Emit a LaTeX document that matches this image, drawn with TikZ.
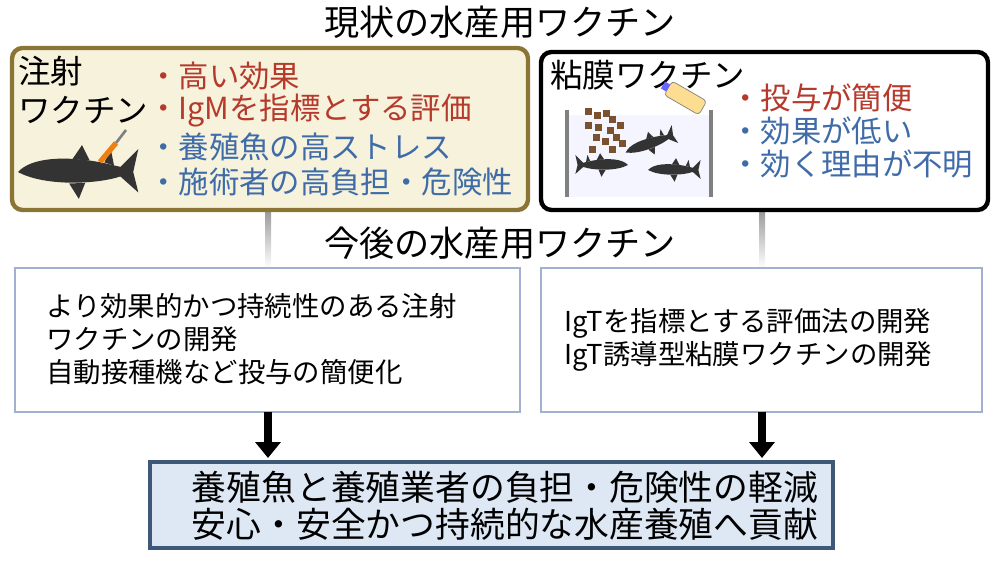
\documentclass[tikz,border=0pt]{standalone}
\usepackage{fontspec}
\setmainfont{Noto Sans CJK JP}
\usepackage{xcolor}
\usetikzlibrary{arrows.meta}
\definecolor{boxyellow}{HTML}{F6F2DC}
\definecolor{boxolive}{HTML}{8B7535}
\definecolor{txtred}{HTML}{B53A2C}
\definecolor{txtblue}{HTML}{3F6CA8}
\definecolor{lowline}{HTML}{A3B0D2}
\definecolor{botfill}{HTML}{DDE8F4}
\definecolor{botline}{HTML}{3E5878}
\definecolor{fishgray}{HTML}{333333}
\definecolor{pellet}{HTML}{7A5230}
\tikzset{
  title/.style={font=\fontsize{20}{24}\selectfont},
  bullet/.style={anchor=west,font=\fontsize{17.3}{20}\selectfont},
  lowtext/.style={anchor=west,align=left,font=\fontsize{15.6}{18.7}\selectfont},
  fish/.pic={
    \fill[fishgray] (-1,0) .. controls (-0.8,-0.22) and (-0.3,-0.26) .. (0.3,-0.15)
      -- (0.6,-0.08) -- (0.88,-0.36) -- (0.8,0) -- (0.88,0.32) -- (0.6,0.07)
      .. controls (0.2,0.2) and (-0.6,0.22) .. cycle;
    \fill[fishgray] (-0.15,-0.2) -- (0,-0.42) -- (0.12,-0.18) -- cycle;
    \fill[fishgray] (0.35,-0.15) -- (0.45,-0.36) -- (0.5,-0.1) -- cycle;
    \fill[fishgray] (-0.2,0.18) -- (-0.05,0.42) -- (0.05,0.17) -- cycle;
  }
}
\begin{document}
\begin{tikzpicture}[x=0.02cm,y=-0.02cm]
	\useasboundingbox (0,0) rectangle (1000,574);
	% upper part
	\node[title] (now) at (500,22) {現状の水産用ワクチン};
	\shade[top color=gray!80,bottom color=white] (265,210) rectangle (271,268);
	\shade[top color=gray!80,bottom color=white] (759,210) rectangle (765,268);
	\filldraw[draw=boxolive,line width=2.5pt,fill=boxyellow,rounded corners=6pt] (12,48) rectangle (528,210);
	\filldraw[draw=black,line width=2.5pt,fill=white,rounded corners=6pt] (541,52) rectangle (988,210);
	\node[bullet,align=left,font=\fontsize{18.5}{22}\selectfont] (inj) at (12,90) {注射\\ワクチン};
	\node[bullet,txtred] (b1) at (142,76) {・高い効果};
	\node[bullet,txtred] (b2) at (142,111) {・IgMを指標とする評価};
	\node[bullet,txtblue] (b3) at (142,147) {・養殖魚の高ストレス};
	\node[bullet,txtblue] (b4) at (142,182) {・施術者の高負担・危険性};
	\pic[scale=64] at (82,172) {fish};
	\draw[line width=3pt,orange!70!brown] (100,162) -- (116,143);
	\draw[line width=1.5pt,gray] (116,143) -- (126,130);
	\node[bullet,font=\fontsize{18.5}{22}\selectfont] (muc) at (544,75) {粘膜ワクチン};
	\node[bullet,txtred] (c1) at (724,98) {・投与が簡便};
	\node[bullet,txtblue] (c2) at (724,131) {・効果が低い};
	\node[bullet,txtblue] (c3) at (724,164) {・効く理由が不明};
	% tank
	\fill[blue!4] (567,115) rectangle (711,197);
	\draw[line width=2pt,gray] (567,110) -- (567,197) (711,110) -- (711,197);
	\foreach \px/\py in {588/112,597/116,606/114,612/120,588/126,598/128,610/131,596/138,605/142,616/138,620/126,592/150,612/150,622/144}
		\fill[pellet] (\px-3.5,\py-3.5) rectangle (\px+3.5,\py+3.5);
	\begin{scope}[shift={(682,96)},rotate=-30]
		\filldraw[draw=gray,fill=yellow!40!orange!40,rounded corners=2pt] (-16,-8) rectangle (24,8);
		\fill[blue!60] (-22,-4) rectangle (-16,4);
	\end{scope}
	\pic[scale=28,rotate=20] at (652,143) {fish};
	\pic[scale=28,rotate=180,yscale=-1] at (600,165) {fish};
	\pic[scale=28] at (676,170) {fish};
	% lower part
	\node[title] (future) at (500,243) {今後の水産用ワクチン};
	\draw[lowline,line width=1.5pt] (15,268) rectangle (520,412);
	\draw[lowline,line width=1.5pt] (541,268) rectangle (982,412);
	\node[lowtext] (l1) at (40,339) {より効果的かつ持続性のある注射\\ワクチンの開発\\自動接種機など投与の簡便化};
	\node[lowtext] (r1) at (558,340) {IgTを指標とする評価法の開発\\IgT誘導型粘膜ワクチンの開発};
	\filldraw[draw=botline,line width=2pt,fill=botfill] (150,462) rectangle (833,548);
	\node[align=center,font=\fontsize{19.8}{21}\selectfont] (goal) at (505,506) {養殖魚と養殖業者の負担・危険性の軽減\\安心・安全かつ持続的な水産養殖へ貢献};
	\draw[line width=4pt,-{Triangle[length=9pt,width=14pt]}] (268,412) -- (268,458);
	\draw[line width=4pt,-{Triangle[length=9pt,width=14pt]}] (762,412) -- (762,458);
\end{tikzpicture}
\end{document}
